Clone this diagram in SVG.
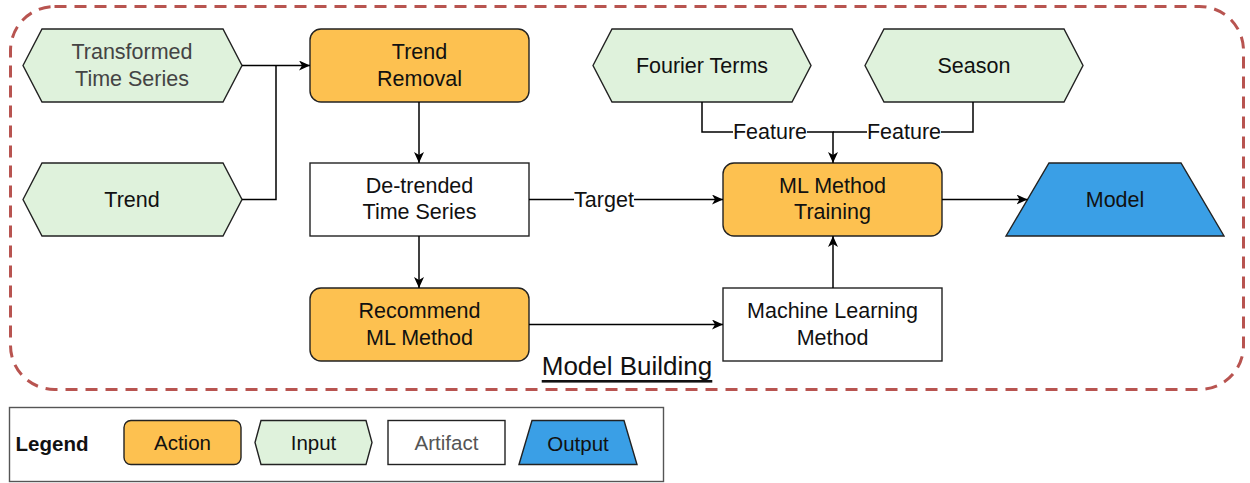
<svg xmlns="http://www.w3.org/2000/svg" width="1250" height="483" viewBox="0 0 1250 483">
<style>
text{font-family:"Liberation Sans",Arial,sans-serif;font-size:21.5px;fill:#111;text-anchor:middle;dominant-baseline:central}
.input{fill:#dff2dc;stroke:#222;stroke-width:1.4}
.action{fill:#fdc150;stroke:#222;stroke-width:1.4}
.artifact{fill:#fff;stroke:#222;stroke-width:1.4}
.output{fill:#3a9fe6;stroke:#222;stroke-width:1.4}
.conn path{fill:none;stroke:#000;stroke-width:1.5}
.lbl{fill:#fff}
</style>
<defs>
<marker id="arr" markerUnits="userSpaceOnUse" markerWidth="12" markerHeight="10" refX="11" refY="5" orient="auto">
<path d="M0,0 L11,5 L0,10 L3,5 Z" fill="#000"/>
</marker>
</defs>
<rect id="container" x="10.5" y="6.5" width="1233" height="383" rx="44" ry="44" fill="none" stroke="#b85450" stroke-width="3" stroke-dasharray="12,8"/>
<text x="627" y="366" style="font-size:26px;text-decoration:underline">Model Building</text>

<g id="transformed"><polygon class="input" points="23,65.5 42,29 223,29 242,65.5 223,102 42,102"/><text x="132" y="52" style="fill:#444">Transformed</text><text x="132" y="79" style="fill:#444">Time Series</text></g>
<g id="trend"><polygon class="input" points="23,199.5 42,163 223,163 242,199.5 223,236 42,236"/><text x="132" y="199.5">Trend</text></g>
<g id="trendRemoval"><rect class="action" x="310" y="29" width="219" height="73" rx="11"/><text x="419.5" y="52">Trend</text><text x="419.5" y="79">Removal</text></g>
<g id="detrended"><rect class="artifact" x="310" y="163" width="219" height="73"/><text x="419.5" y="186">De-trended</text><text x="419.5" y="212">Time Series</text></g>
<g id="recommend"><rect class="action" x="310" y="288" width="219" height="73" rx="11"/><text x="419.5" y="311">Recommend</text><text x="419.5" y="338">ML Method</text></g>
<g id="fourier"><polygon class="input" points="593,65.5 612,29 792,29 811,65.5 792,102 612,102"/><text x="702" y="65.5">Fourier Terms</text></g>
<g id="season"><polygon class="input" points="865,65.5 884,29 1064,29 1083,65.5 1064,102 884,102"/><text x="974" y="65.5">Season</text></g>
<g id="mlTraining"><rect class="action" x="723" y="163" width="219" height="73" rx="11"/><text x="832.5" y="186">ML Method</text><text x="832.5" y="212">Training</text></g>
<g id="mlMethod"><rect class="artifact" x="723" y="288" width="219" height="73"/><text x="832.5" y="311">Machine Learning</text><text x="832.5" y="338">Method</text></g>
<g id="model"><polygon class="output" points="1006,236 1049,163 1181,163 1224,236"/><text x="1115" y="200">Model</text></g>

<g id="connectors" class="conn">
<path d="M242,65.5 H310" marker-end="url(#arr)"/>
<path d="M242,199.5 H276 V65.5"/>
<path d="M419,102 V163" marker-end="url(#arr)"/>
<path d="M702,102 V132 H833 V163" marker-end="url(#arr)"/>
<path d="M973,102 V132 H833"/>
<path d="M529,199.5 H723" marker-end="url(#arr)"/>
<path d="M942,199.5 H1027.5" marker-end="url(#arr)"/>
<path d="M419,236 V288" marker-end="url(#arr)"/>
<path d="M529,324.5 H723" marker-end="url(#arr)"/>
<path d="M833,288 V236" marker-end="url(#arr)"/>
<rect class="lbl" x="733" y="121" width="74" height="22"/><text x="770" y="132">Feature</text>
<rect class="lbl" x="867" y="121" width="74" height="22"/><text x="904" y="132">Feature</text>
<rect class="lbl" x="574" y="189" width="60" height="22"/><text x="604" y="200">Target</text>
</g>

<g id="legend">
<rect x="9.5" y="407.5" width="654" height="74" fill="#fff" stroke="#555" stroke-width="1.4"/>
<text x="52" y="443.5" style="font-weight:bold;font-size:20.5px">Legend</text>
<rect class="action" x="124" y="420.5" width="117" height="44" rx="7"/><text x="182.5" y="442.5" style="font-size:20.5px">Action</text>
<polygon class="input" points="255,442.5 261,420.5 366,420.5 372,442.5 366,464.5 261,464.5"/><text x="313.5" y="442.5" style="font-size:20.5px">Input</text>
<rect class="artifact" x="388" y="420.5" width="117" height="44"/><text x="446.5" y="442.5" style="font-size:20.5px;fill:#555">Artifact</text>
<polygon class="output" points="519,464.5 532,420.5 624,420.5 637,464.5"/><text x="578" y="443.5" style="font-size:20.5px">Output</text>
</g>
</svg>
